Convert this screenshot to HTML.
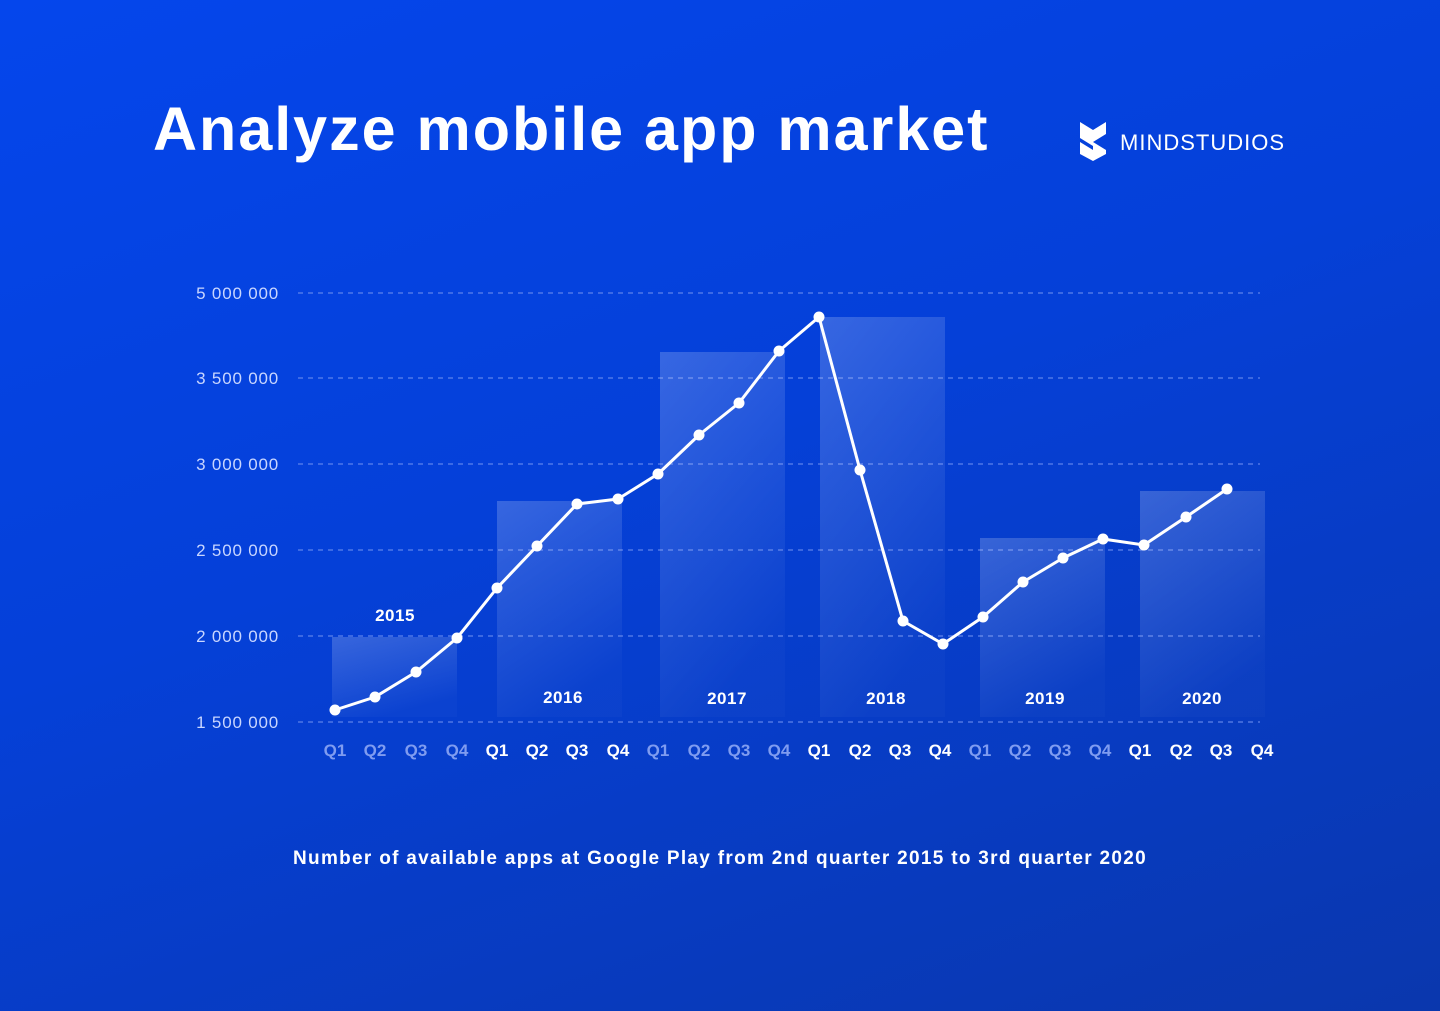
<!DOCTYPE html>
<html><head><style>
html,body{margin:0;padding:0;}
body{width:1440px;height:1011px;overflow:hidden;background:linear-gradient(160deg,#0546ec 0%,#0540d8 45%,#0a37ad 100%);font-family:"Liberation Sans",sans-serif;position:relative;}
.t{position:absolute;left:153px;top:94px;color:#fff;font-size:61px;font-weight:bold;letter-spacing:2px;}
</style></head><body>
<div class="t">Analyze mobile app market</div>
<svg width="1440" height="1011" style="position:absolute;left:0;top:0" font-family="Liberation Sans, sans-serif">
<defs>
<linearGradient id="bg" x1="0" y1="0" x2="0.4" y2="1">
<stop offset="0" stop-color="#fff" stop-opacity="0.2"/>
<stop offset="1" stop-color="#fff" stop-opacity="0.02"/>
</linearGradient>
</defs>
<path d="M1080 122 L1093 130 L1106 122 L1106 134 L1093 142 L1106 150 L1106 154 L1093 161 L1080 154 L1080 142 L1093 150 L1093 146 L1080 138 Z" fill="#fff"/>
<text x="1120" y="150" fill="#fff" font-size="22" letter-spacing="1">MINDSTUDIOS</text>
<g stroke="#6f8ff0" stroke-width="1.5" stroke-dasharray="5 5" opacity="0.7">
<line x1="298" y1="293" x2="1260" y2="293"/>
<line x1="298" y1="378" x2="1260" y2="378"/>
<line x1="298" y1="464" x2="1260" y2="464"/>
<line x1="298" y1="550" x2="1260" y2="550"/>
<line x1="298" y1="636" x2="1260" y2="636"/>
<line x1="298" y1="722" x2="1260" y2="722"/>
</g>
<g fill="#c9d6ff" font-size="17" letter-spacing="0.8" text-anchor="end">
<text x="279" y="299">5 000 000</text>
<text x="279" y="384">3 500 000</text>
<text x="279" y="470">3 000 000</text>
<text x="279" y="556">2 500 000</text>
<text x="279" y="642">2 000 000</text>
<text x="279" y="728">1 500 000</text>
</g>
<g fill="url(#bg)">
<rect x="332" y="637" width="125" height="80"/>
<rect x="497" y="501" width="125" height="216"/>
<rect x="660" y="352" width="125" height="365"/>
<rect x="820" y="317" width="125" height="400"/>
<rect x="980" y="538" width="125" height="179"/>
<rect x="1140" y="491" width="125" height="226"/>
</g>
<g fill="#fff" font-size="17" font-weight="bold" text-anchor="middle" letter-spacing="0.5">
<text x="395" y="621">2015</text>
<text x="563" y="703">2016</text>
<text x="727" y="704">2017</text>
<text x="886" y="704">2018</text>
<text x="1045" y="704">2019</text>
<text x="1202" y="704">2020</text>
</g>
<polyline fill="none" stroke="#fff" stroke-width="3" stroke-linejoin="round" points="335,710 375,697 416,672 457,638 497,588 537,546 577,504 618,499 658,474 699,435 739,403 779,351 819,317 860,470 903,621 943,644 983,617 1023,582 1063,558 1103,539 1144,545 1186,517 1227,489"/>
<g fill="#fff">
<circle cx="335" cy="710" r="5.5"/><circle cx="375" cy="697" r="5.5"/><circle cx="416" cy="672" r="5.5"/><circle cx="457" cy="638" r="5.5"/><circle cx="497" cy="588" r="5.5"/><circle cx="537" cy="546" r="5.5"/><circle cx="577" cy="504" r="5.5"/><circle cx="618" cy="499" r="5.5"/><circle cx="658" cy="474" r="5.5"/><circle cx="699" cy="435" r="5.5"/><circle cx="739" cy="403" r="5.5"/><circle cx="779" cy="351" r="5.5"/><circle cx="819" cy="317" r="5.5"/><circle cx="860" cy="470" r="5.5"/><circle cx="903" cy="621" r="5.5"/><circle cx="943" cy="644" r="5.5"/><circle cx="983" cy="617" r="5.5"/><circle cx="1023" cy="582" r="5.5"/><circle cx="1063" cy="558" r="5.5"/><circle cx="1103" cy="539" r="5.5"/><circle cx="1144" cy="545" r="5.5"/><circle cx="1186" cy="517" r="5.5"/><circle cx="1227" cy="489" r="5.5"/>
</g>
<g font-size="17" text-anchor="middle" font-weight="bold">
<g fill="#7f9cf0"><text x="335" y="756">Q1</text><text x="375" y="756">Q2</text><text x="416" y="756">Q3</text><text x="457" y="756">Q4</text></g>
<g fill="#fff"><text x="497" y="756">Q1</text><text x="537" y="756">Q2</text><text x="577" y="756">Q3</text><text x="618" y="756">Q4</text></g>
<g fill="#7f9cf0"><text x="658" y="756">Q1</text><text x="699" y="756">Q2</text><text x="739" y="756">Q3</text><text x="779" y="756">Q4</text></g>
<g fill="#fff"><text x="819" y="756">Q1</text><text x="860" y="756">Q2</text><text x="900" y="756">Q3</text><text x="940" y="756">Q4</text></g>
<g fill="#7f9cf0"><text x="980" y="756">Q1</text><text x="1020" y="756">Q2</text><text x="1060" y="756">Q3</text><text x="1100" y="756">Q4</text></g>
<g fill="#fff"><text x="1140" y="756">Q1</text><text x="1181" y="756">Q2</text><text x="1221" y="756">Q3</text><text x="1262" y="756">Q4</text></g>
</g>
<text x="720" y="864" fill="#fff" font-size="19" font-weight="bold" text-anchor="middle" letter-spacing="1.3">Number of available apps at Google Play from 2nd quarter 2015 to 3rd quarter 2020</text>
</svg>
</body></html>
